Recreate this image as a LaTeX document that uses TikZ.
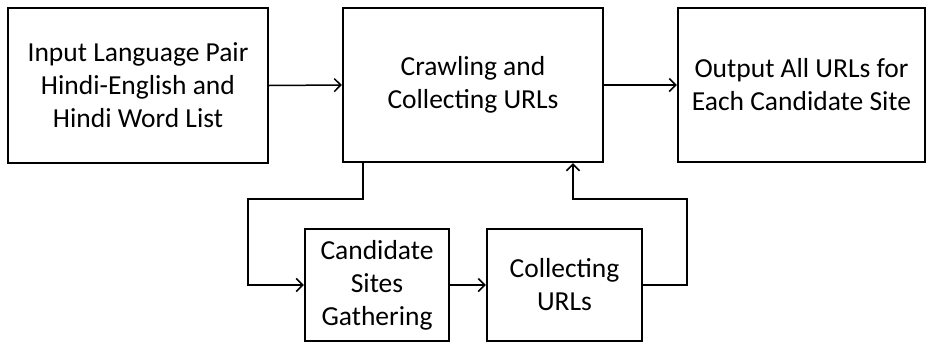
\documentclass[tikz,border=0pt]{standalone}
\usepackage{fontspec}
\setmainfont{Carlito}
\usetikzlibrary{arrows.meta}

\tikzset{
  box/.style={rectangle, draw=black, line width=2.4pt, align=center,
    font=\fontsize{27.5}{33}\selectfont, inner sep=0pt},
  arr/.style={line width=1.5pt, -{Straight Barb[length=6.5pt,width=13pt,line width=1.5pt]}}
}

\begin{document}
\begin{tikzpicture}[x=1pt, y=-1pt]
\useasboundingbox (0,0) rectangle (928,343);

\node(input) [box, minimum width=260pt, minimum height=155pt] at (138,85.5) {Input Language Pair\\Hindi-English and\\Hindi Word List};
\node(crawl) [box, minimum width=260pt, minimum height=154pt] at (473,85) {Crawling and\\Collecting URLs};
\node(output) [box, minimum width=247pt, minimum height=154pt] at (801.5,85) {Output All URLs for\\Each Candidate Site};
\node(gather) [box, minimum width=144pt, minimum height=112pt] at (377,285) {Candidate\\Sites\\Gathering};
\node(collect) [box, minimum width=155pt, minimum height=112pt] at (564.5,285) {Collecting\\URLs};

\coordinate(c1) at (363,199);
\coordinate(c2) at (248,199);
\coordinate(c3) at (687,199);
\coordinate(c4) at (573,199);

\draw[arr] (input.east) -- (crawl.west);
\draw[arr] (crawl.east) -- (output.west);
\draw[arr] (crawl.south -| c1) -- (c1) -- (c2) |- (gather.west);
\draw[arr] (gather.east) -- (collect.west);
\draw[arr] (collect.east) -| (c3) -- (c4) -- (crawl.south -| c4);

\end{tikzpicture}
\end{document}
